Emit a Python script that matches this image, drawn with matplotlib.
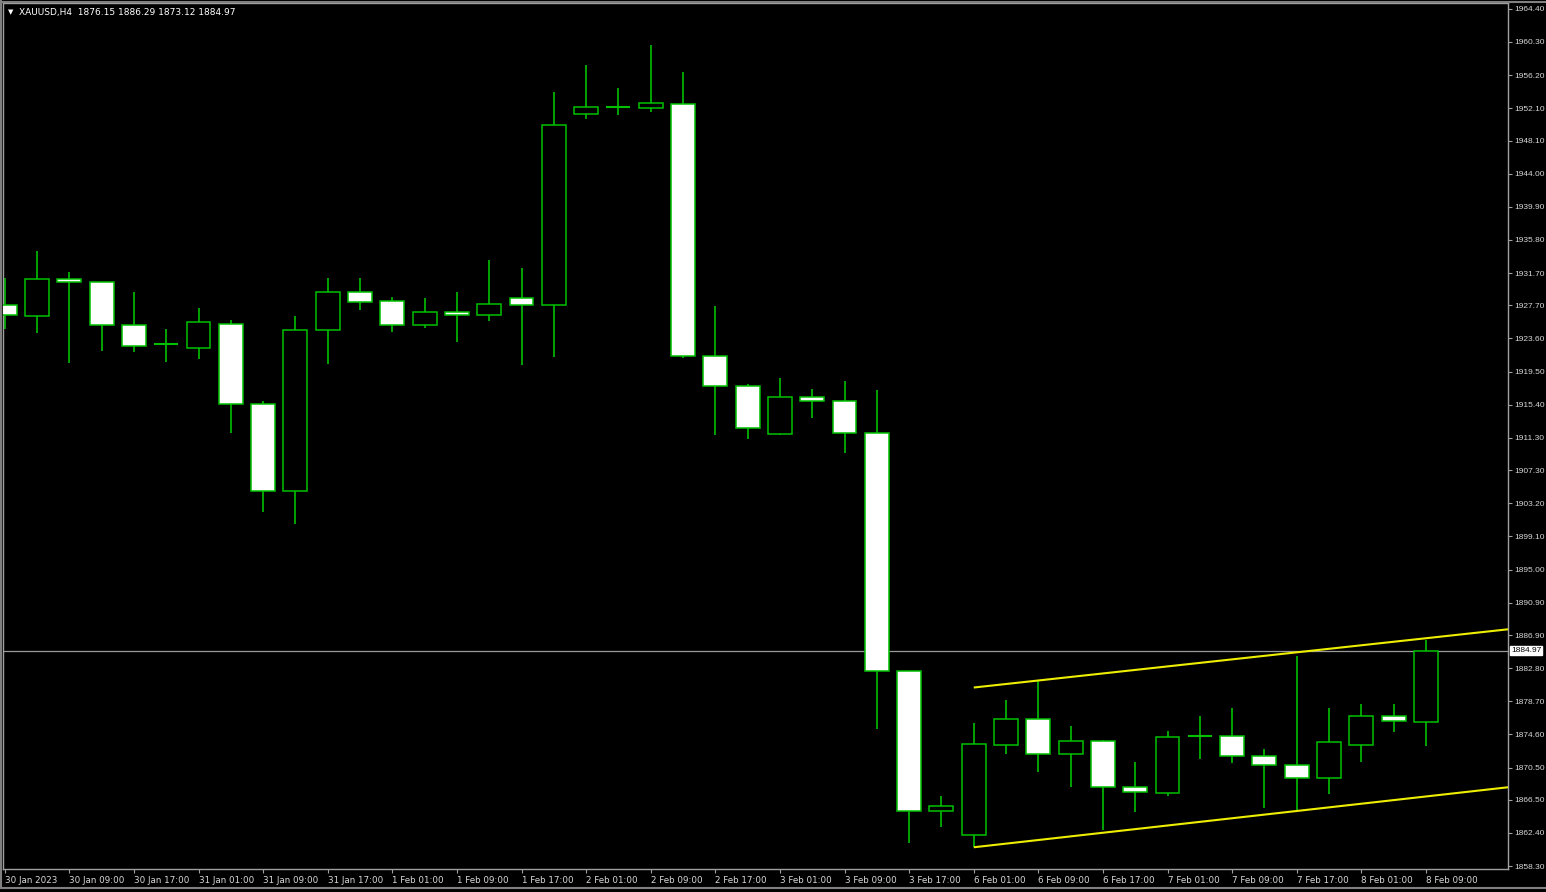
import matplotlib
matplotlib.use("Agg")
import matplotlib.pyplot as plt
import matplotlib.transforms as mtransforms
from matplotlib.lines import Line2D

# ---- data (XAUUSD H4, 30 Jan 2023 01:00 .. 8 Feb 2023 09:00) ----
opens = [1927.74, 1926.38, 1930.96, 1930.59, 1925.27, 1922.90, 1922.42, 1925.39, 1915.49, 1904.72,
         1924.65, 1929.35, 1928.24, 1925.27, 1926.87, 1926.50, 1928.61, 1927.74, 1951.38, 1952.25,
         1952.12, 1952.62, 1921.43, 1917.72, 1911.78, 1916.35, 1915.86, 1911.90, 1882.44, 1865.12,
         1862.15, 1873.29, 1876.50, 1872.17, 1873.78, 1868.09, 1867.35, 1874.40, 1874.40, 1871.93,
         1870.81, 1869.20, 1873.29, 1876.88, 1876.15]
highs = [1931.08, 1934.42, 1931.83, 1930.65, 1929.35, 1924.77, 1927.37, 1925.88, 1915.86, 1926.38,
         1931.08, 1931.08, 1928.73, 1928.61, 1929.35, 1933.31, 1932.32, 1954.10, 1957.44, 1954.60,
         1959.92, 1956.58, 1927.62, 1917.96, 1918.71, 1917.34, 1918.33, 1917.22, 1882.50, 1866.97,
         1876.01, 1878.86, 1881.21, 1875.64, 1873.90, 1871.18, 1875.02, 1876.88, 1877.87, 1872.79,
         1884.30, 1877.87, 1878.36, 1878.36, 1886.29]
lows = [1924.77, 1924.28, 1920.56, 1922.05, 1921.92, 1920.69, 1921.06, 1911.90, 1902.12, 1900.64,
        1920.44, 1927.12, 1924.40, 1924.89, 1923.16, 1925.76, 1920.32, 1921.31, 1950.76, 1951.26,
        1951.63, 1921.18, 1911.65, 1911.16, 1911.65, 1913.76, 1909.42, 1875.27, 1861.16, 1863.14,
        1860.66, 1872.17, 1869.94, 1868.09, 1862.77, 1865.00, 1866.97, 1871.55, 1871.06, 1865.49,
        1865.12, 1867.22, 1871.18, 1874.90, 1873.12]
closes = [1926.50, 1930.96, 1930.59, 1925.27, 1922.67, 1922.90, 1925.64, 1915.49, 1904.72, 1924.65,
          1929.35, 1928.11, 1925.27, 1926.87, 1926.50, 1927.86, 1927.74, 1950.02, 1952.25, 1952.25,
          1952.74, 1921.43, 1917.72, 1912.52, 1916.35, 1915.86, 1911.90, 1882.44, 1865.12, 1865.74,
          1873.41, 1876.50, 1872.17, 1873.78, 1868.09, 1867.47, 1874.28, 1874.40, 1871.93, 1870.81,
          1869.20, 1873.66, 1876.88, 1876.26, 1884.97]

tick_positions = list(range(0, 45, 2))
tick_labels = ["30 Jan 2023", "30 Jan 09:00", "30 Jan 17:00", "31 Jan 01:00", "31 Jan 09:00",
               "31 Jan 17:00", "1 Feb 01:00", "1 Feb 09:00", "1 Feb 17:00", "2 Feb 01:00",
               "2 Feb 09:00", "2 Feb 17:00", "3 Feb 01:00", "3 Feb 09:00", "3 Feb 17:00",
               "6 Feb 01:00", "6 Feb 09:00", "6 Feb 17:00", "7 Feb 01:00", "7 Feb 09:00",
               "7 Feb 17:00", "8 Feb 01:00", "8 Feb 09:00"]
price_ticks = [1964.40, 1960.30, 1956.20, 1952.10, 1948.10, 1944.00, 1939.90, 1935.80, 1931.70,
               1927.70, 1923.60, 1919.50, 1915.40, 1911.30, 1907.30, 1903.20, 1899.10, 1895.00,
               1890.90, 1886.90, 1882.80, 1878.70, 1874.60, 1870.50, 1866.50, 1862.40, 1858.30]
bid = 1884.97
header = "XAUUSD,H4  1876.15 1886.29 1873.12 1884.97"
# channel trend lines (start index, start price, second index, second price)
upper_line = (30, 1880.40, 44, 1886.50)
lower_line = (30, 1860.63, 40, 1865.12)

# ---- styling ----
W, H = 1546, 892
GREEN = "#00c000"
fig = plt.figure(figsize=(W / 100, H / 100), dpi=100, facecolor="black")
ax = fig.add_axes([3 / W, (H - 869) / H, (1508 - 3) / W, (869 - 3) / H], facecolor="black")

xmin, xmax = -0.053, 46.54
ax.set_xlim(xmin, xmax)
ax.set_ylim(1857.94, 1965.12)

bw = 0.74
n = len(opens)
for i in range(n):
    o, h, l, c = opens[i], highs[i], lows[i], closes[i]
    ax.vlines(i, l, h, color=GREEN, lw=1.2, zorder=2)
    if abs(c - o) < 1e-9:
        ax.hlines(o, i - bw / 2, i + bw / 2, color=GREEN, lw=1.5, zorder=3)
    else:
        fc = "white" if c < o else "black"
        ax.bar(i, abs(c - o), bottom=min(o, c), width=bw, facecolor=fc,
               edgecolor=GREEN, linewidth=1.1, zorder=3)

# bid line
ax.axhline(bid, color="#9a9a9a", lw=0.9, zorder=1)

# channel lines (rays extended to right edge)
for (x0, y0, x1, y1) in (upper_line, lower_line):
    slope = (y1 - y0) / (x1 - x0)
    ax.plot([x0, xmax], [y0, y0 + slope * (xmax - x0)], color="#eeee00", lw=1.5, zorder=4,
            solid_capstyle="butt")

# axes styling
for s in ax.spines.values():
    s.set_color("#a0a0a0")
    s.set_linewidth(1.0)
ax.yaxis.tick_right()
ax.set_yticks(price_ticks)
ax.set_yticklabels([f"{v:.2f}" for v in price_ticks], family="Liberation Sans")
ax.tick_params(axis="y", colors="#a0a0a0", labelcolor="#d8d8d8", length=3, width=0.8,
               labelsize=6.0, pad=1.5)
ax.set_xticks(tick_positions)
ax.set_xticklabels(tick_labels)
ax.tick_params(axis="x", colors="#a0a0a0", labelcolor="#d8d8d8", length=3, width=0.8,
               labelsize=6.3, pad=2)
for lab in ax.get_xticklabels():
    lab.set_ha("left")

# bid price box on the price scale
trans = mtransforms.blended_transform_factory(ax.transAxes, ax.transData)
ax.text(1.0 + 3 / (1508 - 3), bid, f"{bid:.2f}", transform=trans, ha="left", va="center",
        fontsize=6.0, color="black", clip_on=False, family="Liberation Sans",
        bbox=dict(boxstyle="square,pad=0.12", facecolor="white", edgecolor="white"))

# header
fig.text(8 / W, 1 - 12 / H, "\u25BC", color="white", fontsize=5, va="center", ha="left")
fig.text(19 / W, 1 - 12 / H, header, color="white", fontsize=6.5, va="center", ha="left")

# outer frame lines
fig.add_artist(Line2D([0, 1], [1 - 1.5 / H, 1 - 1.5 / H], transform=fig.transFigure,
                      color="#808080", lw=1.5))
fig.add_artist(Line2D([0, 1], [4 / H, 4 / H], transform=fig.transFigure,
                      color="#808080", lw=1.5))
fig.add_artist(Line2D([1 / W, 1 / W], [4 / H, 1], transform=fig.transFigure,
                      color="#808080", lw=1.5))

fig.savefig("out.png", dpi=100, facecolor="black")
